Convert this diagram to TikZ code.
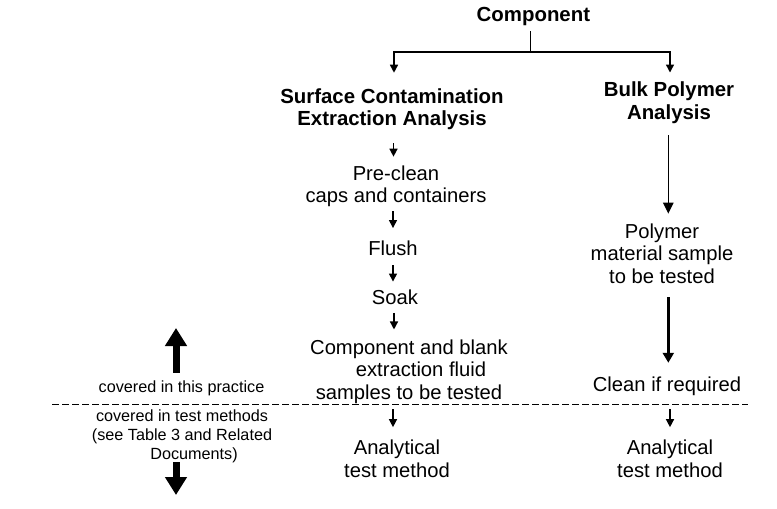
\documentclass[tikz,border=0pt]{standalone}
\usepackage{fontspec}
\setmainfont{Liberation Sans}
\usetikzlibrary{arrows.meta,calc}
\begin{document}
\begin{tikzpicture}[x=1pt,y=-1pt,
  txt/.style={inner sep=0pt, anchor=base, align=center,
    font=\fontsize{20.2}{22.5}\selectfont,
    execute at begin node=\strut, execute at end node=\strut},
  ttl/.style={txt, font=\fontsize{20.4}{22.5}\selectfont\bfseries},
  sml/.style={inner sep=0pt, anchor=base, align=center,
    font=\fontsize{16.2}{18.7}\selectfont,
    execute at begin node=\strut, execute at end node=\strut},
  arr/.style={line width=1.4pt, -{Triangle[length=8pt,width=8pt]}},
  arrA/.style={line width=1.3pt, -{Triangle[length=11pt,width=10.5pt]}},
  arrB/.style={line width=2.6pt, -{Triangle[length=10pt,width=11pt]}},
  big/.style={line width=7pt, -{Triangle[length=18pt,width=21pt]}},
  divider/.style={line width=1pt, dash pattern=on 6.7pt off 3.3pt}
]
\useasboundingbox (0,0) rectangle (777,509);

% nodes (anchor = baseline of the last line)
\node[ttl] (comp) at (533.4,21.7) {Component};
\node[ttl] (surf) at (392,125.7) {Surface Contamination\\Extraction Analysis};
\node[ttl] (bulk) at (669,119) {Bulk Polymer\\Analysis};
\node[txt] (pre) at (396,202.5) {Pre-clean\\caps and containers};
\node[txt] (flush) at (393,255) {Flush};
\node[txt] (soak) at (395,304.3) {Soak};
\node[txt] (cab) at (409,399.3) {Component and blank\\\hspace*{24pt}extraction fluid\\samples to be tested};
\node[txt] (ana1) at (397,477) {Analytical\\test method};
\node[txt] (poly) at (662,283) {Polymer\\material sample\\to be tested};
\node[txt] (clean) at (667,391.7) {Clean if required};
\node[txt] (ana2) at (670,477) {Analytical\\test method};
\node[sml] (cov1) at (181.5,392.7) {covered in this practice};
\node[sml] (cov2) at (182,459) {covered in test methods\\(see Table 3 and Related\\\hspace*{24pt}Documents)};

\coordinate (split) at (530.7,52);
\coordinate (upTip) at (176,328);
\coordinate (downTip) at (176,495);
\coordinate (dashL) at (52,404);
\coordinate (dashR) at (748,404);

% top tree
\draw[line width=1.4pt, shorten <=2.5pt] ([xshift=-2.7pt]comp.south) -- (split);
\draw[arr, shorten >=15.5pt] (split) -| ([xshift=2pt]surf.north);
\draw[arr, shorten >=9pt] (split) -| ([xshift=1pt]bulk.north);

% left column
\draw[arr, shorten <=10.5pt, shorten >=8.5pt] ([xshift=1.5pt]surf.south) -- ([xshift=1.5pt]surf.south |- pre.north);
\draw[arr, shorten <=2pt, shorten >=11pt] (flush.north |- pre.south) -- (flush.north);
\draw[arr, shorten <=3.2pt, shorten >=6.8pt] (flush.south) -- (flush.south |- soak.north);
\draw[arr, shorten <=1.6pt, shorten >=10pt] ([xshift=-1pt]soak.south) -- ([xshift=-1pt]soak.south |- cab.north);
\draw[arr, shorten <=3pt, shorten >=12.5pt] (flush.south |- cab.south) -- (flush.south |- ana1.north);

% right column
\draw[arrA, shorten <=9.2pt, shorten >=9.5pt] ([xshift=-0.7pt]bulk.south) -- ([xshift=-0.7pt]bulk.south |- poly.north);
\draw[arrB, shorten <=7.2pt, shorten >=13pt] ([xshift=-0.7pt]bulk.south |- poly.south) -- ([xshift=-0.7pt]bulk.south |- clean.north);
\draw[arr, shorten <=10.5pt, shorten >=12.5pt] ([xshift=3pt]clean.south) -- ([xshift=3pt]clean.south |- ana2.north);

% divider and scope arrows
\draw[divider] (dashL) -- (dashR);
\draw[big, shorten <=6.6pt] (upTip |- cov1.north) -- (upTip);
\draw[big, shorten <=-2.6pt] (downTip |- cov2.south) -- (downTip);
\end{tikzpicture}
\end{document}
